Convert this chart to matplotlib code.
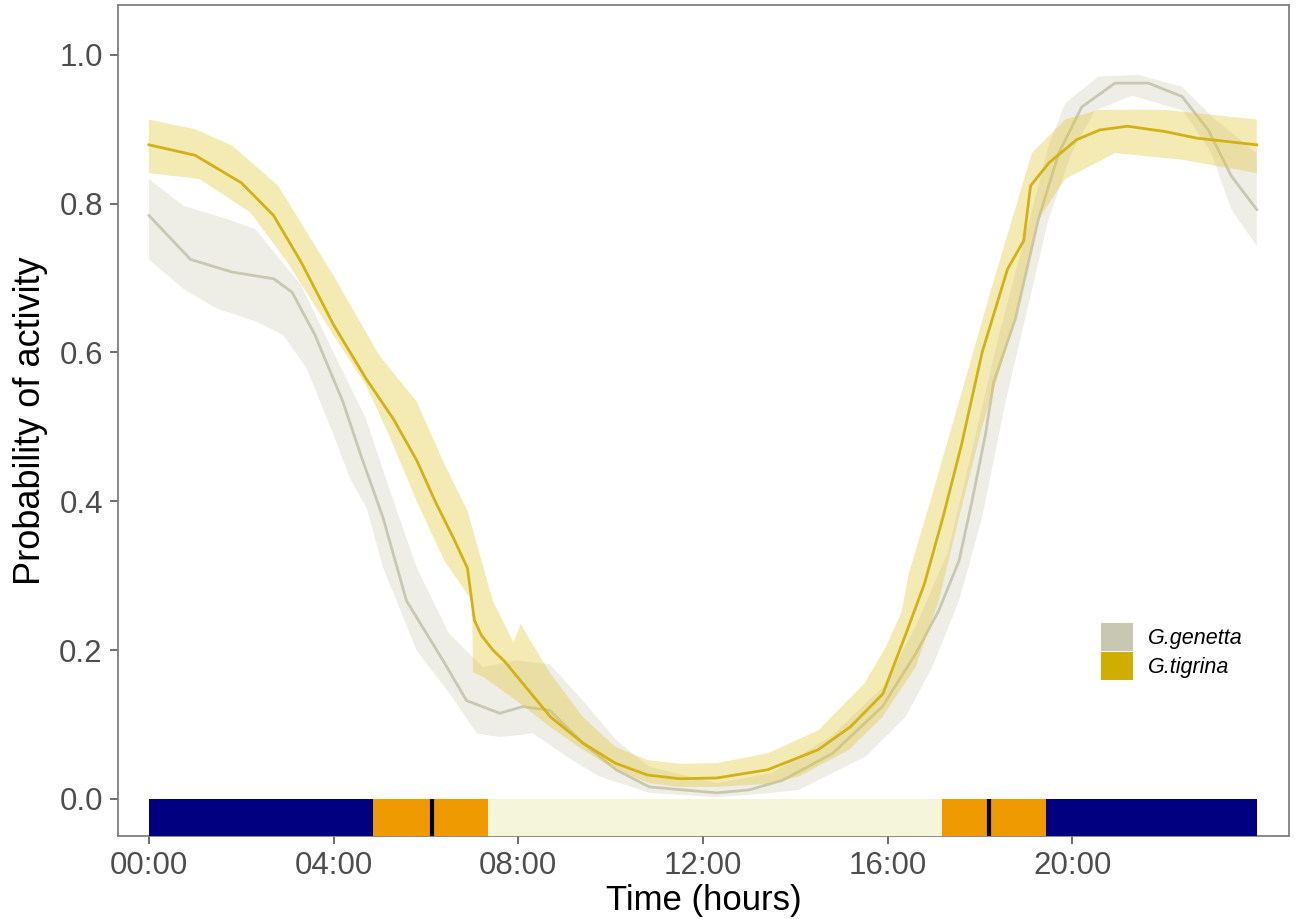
import numpy as np
import matplotlib
matplotlib.use('Agg')
import matplotlib.pyplot as plt
from matplotlib.patches import Patch

plt.rcParams['font.family'] = ['Liberation Sans', 'DejaVu Sans']

# G.tigrina (mean line, upper and lower bounds of the ribbon), time in hours
tig_h = [0, 1.0, 2.0, 2.7, 3.3, 4.0, 4.7, 5.3, 5.8, 6.2, 6.6, 6.9, 7.05, 7.2, 7.45, 7.7,
         8.1, 8.7, 9.4, 10.1, 10.8, 11.5, 12.3, 13.4, 14.5, 15.2, 15.9, 16.4, 16.8, 17.2,
         17.6, 18.05, 18.6, 18.95, 19.1, 19.5, 20.1, 20.6, 21.2, 22.0, 22.7, 24.0]
tig_mean = [0.879, 0.865, 0.828, 0.784, 0.721, 0.637, 0.565, 0.510, 0.455, 0.400, 0.350,
            0.310, 0.240, 0.220, 0.200, 0.185, 0.155, 0.110, 0.075, 0.048, 0.032, 0.027,
            0.028, 0.039, 0.066, 0.097, 0.141, 0.222, 0.289, 0.378, 0.475, 0.600, 0.712,
            0.750, 0.824, 0.855, 0.886, 0.899, 0.904, 0.897, 0.888, 0.879]

tig_up_h = [0, 1.0, 1.8, 2.8, 4.0, 5.0, 5.8, 6.4, 6.9, 7.45, 7.9, 8.05, 8.7, 9.4, 10.1,
            10.8, 11.5, 12.3, 13.4, 14.5, 15.5, 15.96, 16.3, 16.46, 16.97, 17.55, 18.27,
            19.13, 19.85, 20.57, 22.0, 24.0]
tig_up = [0.913, 0.900, 0.878, 0.824, 0.703, 0.595, 0.534, 0.450, 0.387, 0.266, 0.210,
          0.235, 0.168, 0.110, 0.070, 0.052, 0.047, 0.048, 0.061, 0.092, 0.155, 0.204,
          0.250, 0.302, 0.409, 0.534, 0.690, 0.868, 0.913, 0.926, 0.926, 0.913]

tig_lo_h = [0, 1.1, 2.2, 3.0, 4.0, 4.7, 5.2, 5.8, 6.4, 7.0, 7.02, 7.24, 7.96, 8.68, 9.4,
            10.12, 10.84, 11.5, 12.3, 13.4, 14.08, 15.17, 15.89, 16.61, 17.11, 17.55,
            18.05, 18.77, 19.27, 19.85, 20.93, 22.38, 24.0]
tig_lo = [0.841, 0.833, 0.788, 0.721, 0.623, 0.556, 0.489, 0.400, 0.320, 0.266, 0.170,
          0.164, 0.132, 0.097, 0.066, 0.039, 0.021, 0.016, 0.016, 0.020, 0.030, 0.066,
          0.110, 0.177, 0.266, 0.378, 0.500, 0.645, 0.779, 0.833, 0.868, 0.859, 0.841]

# G.genetta
gen_h = [0, 0.9, 1.8, 2.7, 3.1, 3.6, 4.2, 4.6, 5.07, 5.58, 6.37, 6.88, 7.6, 8.1, 8.68,
         9.4, 10.12, 10.84, 12.3, 13.0, 13.73, 14.81, 15.89, 16.61, 17.11, 17.55, 17.83,
         18.12, 18.3, 18.77, 19.27, 19.71, 20.21, 20.93, 21.65, 22.38, 22.95, 23.45, 24.0]
gen_mean = [0.784, 0.725, 0.708, 0.699, 0.681, 0.623, 0.534, 0.460, 0.378, 0.266, 0.186,
            0.132, 0.115, 0.124, 0.119, 0.075, 0.039, 0.016, 0.008, 0.012, 0.025, 0.061,
            0.124, 0.195, 0.253, 0.320, 0.400, 0.489, 0.560, 0.645, 0.779, 0.868, 0.930,
            0.962, 0.962, 0.944, 0.899, 0.837, 0.792]

gen_up_h = [0, 0.75, 1.7, 2.3, 3.3, 4.0, 4.7, 5.3, 5.8, 6.5, 7.24, 7.96, 8.68, 9.4, 10.12,
            10.84, 12.3, 13.5, 14.8, 15.9, 16.6, 17.3, 17.8, 18.4, 19.0, 19.5, 19.85,
            20.57, 21.44, 22.38, 23.1, 24.0]
gen_up = [0.833, 0.797, 0.779, 0.766, 0.690, 0.600, 0.511, 0.400, 0.311, 0.222, 0.177,
          0.186, 0.181, 0.132, 0.079, 0.043, 0.021, 0.035, 0.085, 0.150, 0.230, 0.330,
          0.460, 0.620, 0.760, 0.880, 0.935, 0.971, 0.973, 0.957, 0.913, 0.868]

gen_lo_h = [0, 0.75, 1.47, 2.34, 2.91, 3.42, 4.0, 4.36, 4.72, 5.07, 5.8, 6.52, 7.1, 7.6,
            8.32, 9.04, 9.76, 10.84, 12.3, 13.5, 14.08, 15.53, 16.39, 16.97, 17.55, 18.05,
            18.56, 19.0, 19.49, 20.0, 20.5, 21.3, 22.4, 23.0, 23.45, 24.0]
gen_lo = [0.725, 0.685, 0.659, 0.641, 0.623, 0.578, 0.489, 0.430, 0.390, 0.311, 0.199,
          0.141, 0.088, 0.083, 0.088, 0.057, 0.030, 0.008, 0.002, 0.008, 0.012, 0.057,
          0.110, 0.177, 0.266, 0.378, 0.534, 0.650, 0.779, 0.870, 0.925, 0.945, 0.925,
          0.870, 0.792, 0.743]

# day/night bar along the bottom
bar_start = [0, 4.86, 7.35, 17.17, 19.43]
bar_end = [4.86, 7.35, 17.17, 19.43, 24.0]
bar_cols = ['#000080', '#EE9A00', '#F5F5DC', '#EE9A00', '#000080']
sun_marks = [6.14, 18.2]

tick_hours = [0, 4, 8, 12, 16, 20]
tick_labels = ['00:00', '04:00', '08:00', '12:00', '16:00', '20:00']

col_gen = '#C8C8B2'
col_tig = '#CFAE00'

fig = plt.figure(figsize=(13, 9.19), dpi=100)
ax = fig.add_axes([0.0908, 0.0903, 0.9008, 0.9043])

ymin = -0.05

# ribbons as polygons (upper edge, then lower edge backwards)
ax.fill(np.r_[gen_up_h, gen_lo_h[::-1]], np.r_[gen_up, gen_lo[::-1]],
        color=col_gen, alpha=0.3, lw=0, zorder=2)
ax.plot(gen_h, gen_mean, color=col_gen, lw=2, zorder=3)
ax.fill(np.r_[tig_up_h, tig_lo_h[::-1]], np.r_[tig_up, tig_lo[::-1]],
        color='#E3C83A', alpha=0.38, lw=0, zorder=4)
ax.plot(tig_h, tig_mean, color='#D2B212', lw=2, zorder=5)

widths = np.array(bar_end) - np.array(bar_start)
ax.bar(bar_start, -ymin, width=widths, bottom=ymin, align='edge',
       color=bar_cols, lw=0, zorder=6)
ax.vlines(sun_marks, ymin, 0, color='black', lw=3, zorder=7)

ax.set_xlim(-0.67, 24.7)
ax.set_ylim(ymin, 1.067)
ax.set_xticks(tick_hours)
ax.set_xticklabels(tick_labels)
ax.set_yticks([0.0, 0.2, 0.4, 0.6, 0.8, 1.0])
ax.set_yticklabels(['0.0', '0.2', '0.4', '0.6', '0.8', '1.0'])
ax.tick_params(labelsize=22.5, colors='#555555', labelcolor='#4D4D4D',
               length=6, width=1.2, pad=5)
for s in ax.spines.values():
    s.set_color('#808080')
    s.set_linewidth(1.3)

ax.set_xlabel('Time (hours)', fontsize=25, labelpad=2)
ax.set_ylabel('Probability of activity', fontsize=26, labelpad=8)

handles = [Patch(facecolor=col_gen, edgecolor='none', label='G.genetta'),
           Patch(facecolor=col_tig, edgecolor='none', label='G.tigrina')]
leg = ax.legend(handles=handles, loc='center', bbox_to_anchor=(0.9, 0.222),
                frameon=False, fontsize=15.5, handlelength=1.45, handleheight=1.6,
                labelspacing=0.05, handletextpad=0.7)
for t in leg.get_texts():
    t.set_fontstyle('italic')

fig.savefig('out.png', dpi=100, facecolor='white')
